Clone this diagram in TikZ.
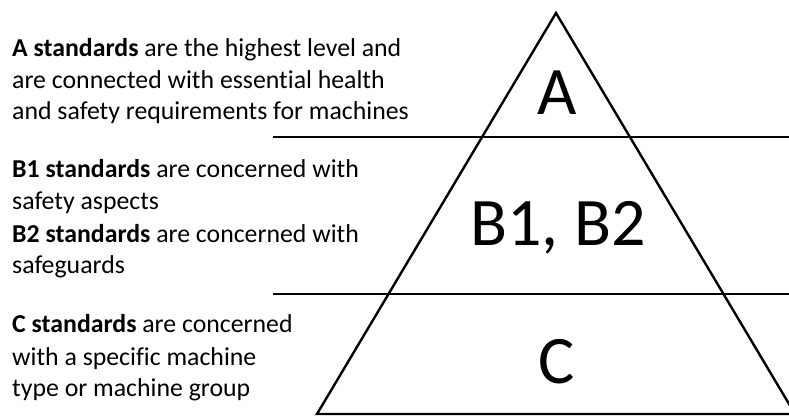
\documentclass[tikz,border=0pt]{standalone}
\usepackage{fontspec}
\setmainfont[Ligatures=NoCommon]{Carlito}
\begin{document}
\begin{tikzpicture}[x=1pt,y=-1pt,
  edge/.style={line width=2.4pt,black},
  desc/.style={anchor=base west,inner sep=0pt,font=\fontsize{25.8}{30}\selectfont},
  big/.style={anchor=base,inner sep=0pt,font=\fontsize{68}{72}\selectfont}]
\useasboundingbox (0,0) rectangle (789,417);
\clip (0,0) rectangle (789,417);
\coordinate (apex) at (556,13);
\coordinate (bl) at (317,414);
\coordinate (br) at (795,414);
\coordinate (l1a) at (273,137);
\coordinate (l1b) at (800,137);
\coordinate (l2a) at (273,294);
\coordinate (l2b) at (800,294);
\draw[edge,line join=miter] (bl) -- (apex) -- (br) -- cycle;
\draw[edge] (l1a) -- (l1b);
\draw[edge] (l2a) -- (l2b);
\node[big] (A) at (557,115) {A};
\node[big] (B) at (558,245) {B1, B2};
\node[big] (C) at (557,383) {C};
\node[desc] (a1) at (12,57) {\textbf{A standards} are the highest level and};
\node[desc] (a2) at (12,89) {are connected with essential health};
\node[desc] (a3) at (12,120) {and safety requirements for machines};
\node[desc] (b1) at (12,177) {\textbf{B1 standards} are concerned with};
\node[desc] (b2) at (12,209) {safety aspects};
\node[desc] (b3) at (12,242) {\textbf{B2 standards} are concerned with};
\node[desc] (b4) at (12,273) {safeguards};
\node[desc] (c1) at (12,332) {\textbf{C standards} are concerned};
\node[desc] (c2) at (12,365) {with a specific machine};
\node[desc] (c3) at (12,396) {type or machine group};
\end{tikzpicture}
\end{document}
